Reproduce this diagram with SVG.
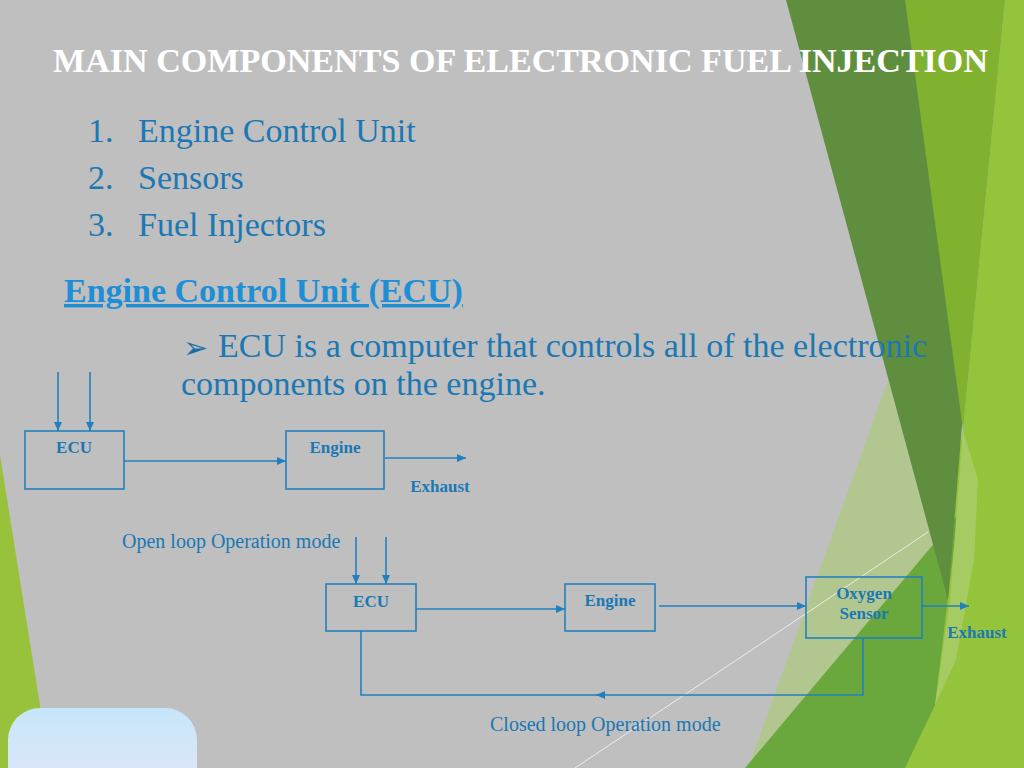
<svg xmlns="http://www.w3.org/2000/svg" width="1024" height="768" viewBox="0 0 1024 768">
<defs>
<style>
.t{font-family:"Liberation Serif","Times New Roman",serif}
.title{font-size:34px;font-weight:bold;fill:#ffffff}
.body{font-size:34px;fill:#1b78b4}
.head{font-size:34px;font-weight:bold;fill:#1e8fd6;text-decoration:underline}
.lbl{font-size:17px;font-weight:bold;fill:#1a78b4;text-anchor:middle}
.cap{font-size:20px;fill:#1a78b4}
.box{fill:none;stroke:#2380bf;stroke-width:1.6}
.ln{fill:none;stroke:#2380bf;stroke-width:1.6}
</style>
<marker id="ah" markerWidth="10" markerHeight="10" refX="9" refY="5" orient="auto" markerUnits="userSpaceOnUse">
<path d="M0,1 L9,5 L0,9 Z" fill="#2380bf"/>
</marker>
<linearGradient id="pill" x1="0" y1="0" x2="0" y2="1">
<stop offset="0" stop-color="#c6e6fb"/>
<stop offset="1" stop-color="#e4e6f8"/>
</linearGradient>
</defs>
<rect width="1024" height="768" fill="#bfbfbf"/>
<g id="decor">
<polygon points="0,455 50,768 0,768" fill="#98c23c"/>
<polygon points="888,380 748,768 905,768 948,600" fill="#b2c78f"/>
<polygon points="1005,0 1024,0 1024,768 900,768 963,430" fill="#94c43b"/>
<polygon points="745,768 958,515 935,705 905,768" fill="#6aa83e"/>
<polygon points="786,0 996,0 948,600" fill="#5f8f3e"/>
<polygon points="905,0 1005,0 963,430" fill="#80b12f"/>
<polygon points="963,430 978,480 974,560 956,660 935,705 950,600" fill="#a6cb62"/>
<line x1="575" y1="768" x2="928" y2="532" stroke="#ffffff" stroke-opacity="0.7" stroke-width="1"/>
<rect x="8" y="708" width="189" height="90" rx="32" fill="url(#pill)"/>
</g>
<g id="text">
<text class="t title" x="53" y="72" textLength="935" lengthAdjust="spacingAndGlyphs">MAIN COMPONENTS OF ELECTRONIC FUEL INJECTION</text>
<text class="t body" x="88" y="142">1.</text>
<text class="t body" x="138" y="142">Engine Control Unit</text>
<text class="t body" x="88" y="189">2.</text>
<text class="t body" x="138" y="189">Sensors</text>
<text class="t body" x="88" y="236">3.</text>
<text class="t body" x="138" y="236">Fuel Injectors</text>
<text class="t head" x="64" y="302">Engine Control Unit (ECU)</text>
<text x="183" y="358" style="font-family:'DejaVu Sans',sans-serif;font-size:30px;fill:#1b6fa8">➢</text>
<text class="t body" x="218" y="357">ECU is a computer that controls all of the electronic</text>
<text class="t body" x="181" y="395">components on the engine.</text>
</g>
<g id="open-ecu">
<rect class="box" x="25" y="431" width="99" height="58"/>
<text class="t lbl" x="74" y="453">ECU</text>
</g>
<g id="open-engine">
<rect class="box" x="286" y="431" width="98" height="58"/>
<text class="t lbl" x="335" y="453">Engine</text>
</g>
<g id="open-exhaust">
<text class="t lbl" x="440" y="492">Exhaust</text>
</g>
<text class="t cap" x="122" y="548">Open loop Operation mode</text>
<g id="closed-ecu">
<rect class="box" x="326" y="584" width="90" height="47"/>
<text class="t lbl" x="371" y="607">ECU</text>
</g>
<g id="closed-engine">
<rect class="box" x="565" y="584" width="90" height="47"/>
<text class="t lbl" x="610" y="606">Engine</text>
</g>
<g id="closed-sensor">
<rect class="box" x="806" y="577" width="116" height="61"/>
<text class="t lbl" x="864" y="599">Oxygen</text>
<text class="t lbl" x="864" y="619">Sensor</text>
</g>
<g id="closed-exhaust">
<text class="t lbl" x="977" y="638">Exhaust</text>
</g>
<text class="t cap" x="490" y="731">Closed loop Operation mode</text>
<g id="connectors">
<line class="ln" x1="58" y1="372" x2="58" y2="431" marker-end="url(#ah)"/>
<line class="ln" x1="90" y1="372" x2="90" y2="431" marker-end="url(#ah)"/>
<line class="ln" x1="124" y1="461" x2="286" y2="461" marker-end="url(#ah)"/>
<line class="ln" x1="385" y1="458" x2="466" y2="458" marker-end="url(#ah)"/>
<line class="ln" x1="356" y1="537" x2="356" y2="584" marker-end="url(#ah)"/>
<line class="ln" x1="386" y1="537" x2="386" y2="584" marker-end="url(#ah)"/>
<line class="ln" x1="416" y1="609" x2="565" y2="609" marker-end="url(#ah)"/>
<line class="ln" x1="659" y1="606" x2="806" y2="606" marker-end="url(#ah)"/>
<line class="ln" x1="922" y1="606" x2="969" y2="606" marker-end="url(#ah)"/>
<path class="ln" d="M863,638 V695 H596" marker-end="url(#ah)"/>
<path class="ln" d="M600,695 H361 V631"/>
</g>
</svg>
